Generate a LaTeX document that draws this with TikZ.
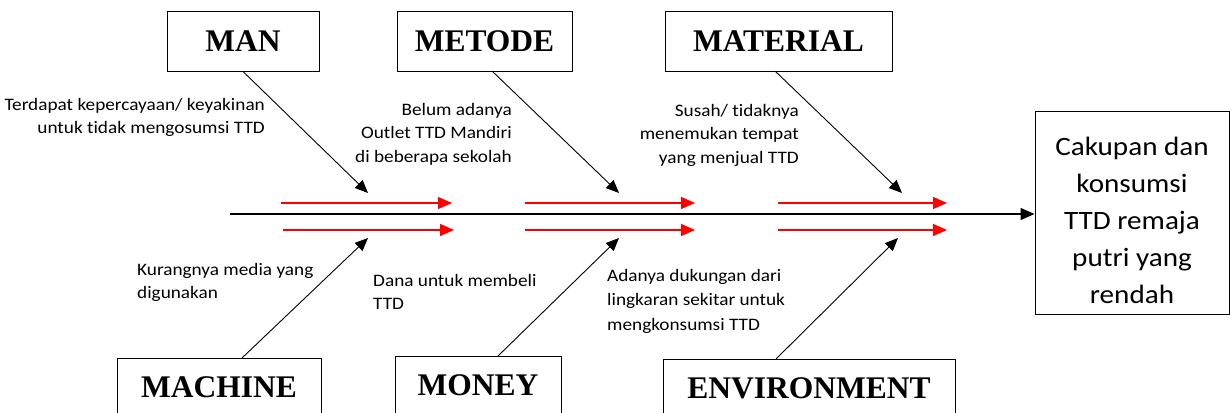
\documentclass[tikz,border=0pt]{standalone}
\usepackage{fontspec}
\setmainfont{Liberation Serif}
\newfontfamily\calib[FakeStretch=1.1,RawFeature={-liga}]{Carlito}
\usetikzlibrary{arrows.meta}
\begin{document}
\begin{tikzpicture}[x=1pt,y=-1pt,
  catbox/.style={draw, line width=1pt, inner sep=0pt, font=\bfseries\fontsize{31.5}{31.5}\selectfont, minimum height=59pt},
  cause/.style={inner sep=0pt, font=\calib\fontsize{17.5}{23.5}\selectfont},
  bone/.style={line width=0.9pt, -{Triangle[length=13pt,width=11pt]}},
  redarr/.style={red, line width=1.2pt, -{Triangle[length=14pt,width=12pt]}},
  spine/.style={line width=1.2pt, -{Triangle[length=14pt,width=12pt]}}]
\useasboundingbox (0,0) rectangle (1230,412);
\clip (0,0) rectangle (1230,412);
% category boxes
\node[catbox, minimum width=152pt] (man) at (243,41.5) {MAN};
\node[catbox, minimum width=175pt] (metode) at (484.5,41.5) {METODE};
\node[catbox, minimum width=227pt] (material) at (778.5,41.5) {MATERIAL};
\node[catbox, minimum width=204pt] (machine) at (219,387.5) {MACHINE};
\node[catbox, minimum width=166pt] (money) at (478,385.5) {MONEY};
\node[catbox, minimum width=292pt] (env) at (809,388.5) {ENVIRONMENT};
% effect box
\node[draw, line width=1pt, minimum width=194pt, minimum height=203pt, inner sep=0pt] (effect) at (1132,212.5) {};
\node[align=center, inner sep=0pt, font=\calib\fontsize{26.5}{37}\selectfont] (effecttext) at (1132,220)
  {Cakupan dan\\konsumsi\\TTD remaja\\putri yang\\rendah};
% spine
\coordinate (tail) at (230,214);
\draw[spine] (tail) -- (effect.west |- tail);
% red arrows
\coordinate (r1a) at (281,203); \coordinate (r1b) at (452,203);
\coordinate (r2a) at (283,230); \coordinate (r2b) at (454,230);
\coordinate (r3a) at (525,203); \coordinate (r3b) at (695,203);
\coordinate (r4a) at (525,230); \coordinate (r4b) at (695,230);
\coordinate (r5a) at (778,203); \coordinate (r5b) at (947,203);
\coordinate (r6a) at (778,230); \coordinate (r6b) at (947,230);
\foreach \i in {1,...,6} \draw[redarr] (r\i a) -- (r\i b);
% bone arrows
\coordinate (t1) at (368,193); \coordinate (t2) at (619,193); \coordinate (t3) at (902,193);
\coordinate (t4) at (368,238); \coordinate (t5) at (619,238); \coordinate (t6) at (898,238);
\coordinate (s2) at (492,71); \coordinate (s3) at (775,71);
\coordinate (s4) at (242,358); \coordinate (s5) at (498,356); \coordinate (s6) at (776,359);
\draw[bone] (man.south) -- (t1);
\draw[bone] (s2) -- (t2);
\draw[bone] (s3) -- (t3);
\draw[bone] (s4) -- (t4);
\draw[bone] (s5) -- (t5);
\draw[bone] (s6) -- (t6);
% cause texts
\node[cause, align=right, anchor=north east] (c1) at (265,98) {Terdapat kepercayaan/ keyakinan\\untuk tidak mengosumsi TTD};
\node[cause, align=right, anchor=north east] (c2) at (512,103) {Belum adanya\\Outlet TTD Mandiri\\di beberapa sekolah};
\node[cause, align=right, anchor=north east] (c3) at (799,104) {Susah/ tidaknya\\menemukan tempat\\yang menjual TTD};
\node[cause, align=left, anchor=north west] (c4) at (137,263) {Kurangnya media yang\\digunakan};
\node[cause, align=left, anchor=north west] (c5) at (373,274) {Dana untuk membeli\\TTD};
\node[cause, align=left, anchor=north west, font=\calib\fontsize{17.5}{24.5}\selectfont] (c6) at (607,269) {Adanya dukungan dari\\lingkaran sekitar untuk\\mengkonsumsi TTD};
\end{tikzpicture}
\end{document}
